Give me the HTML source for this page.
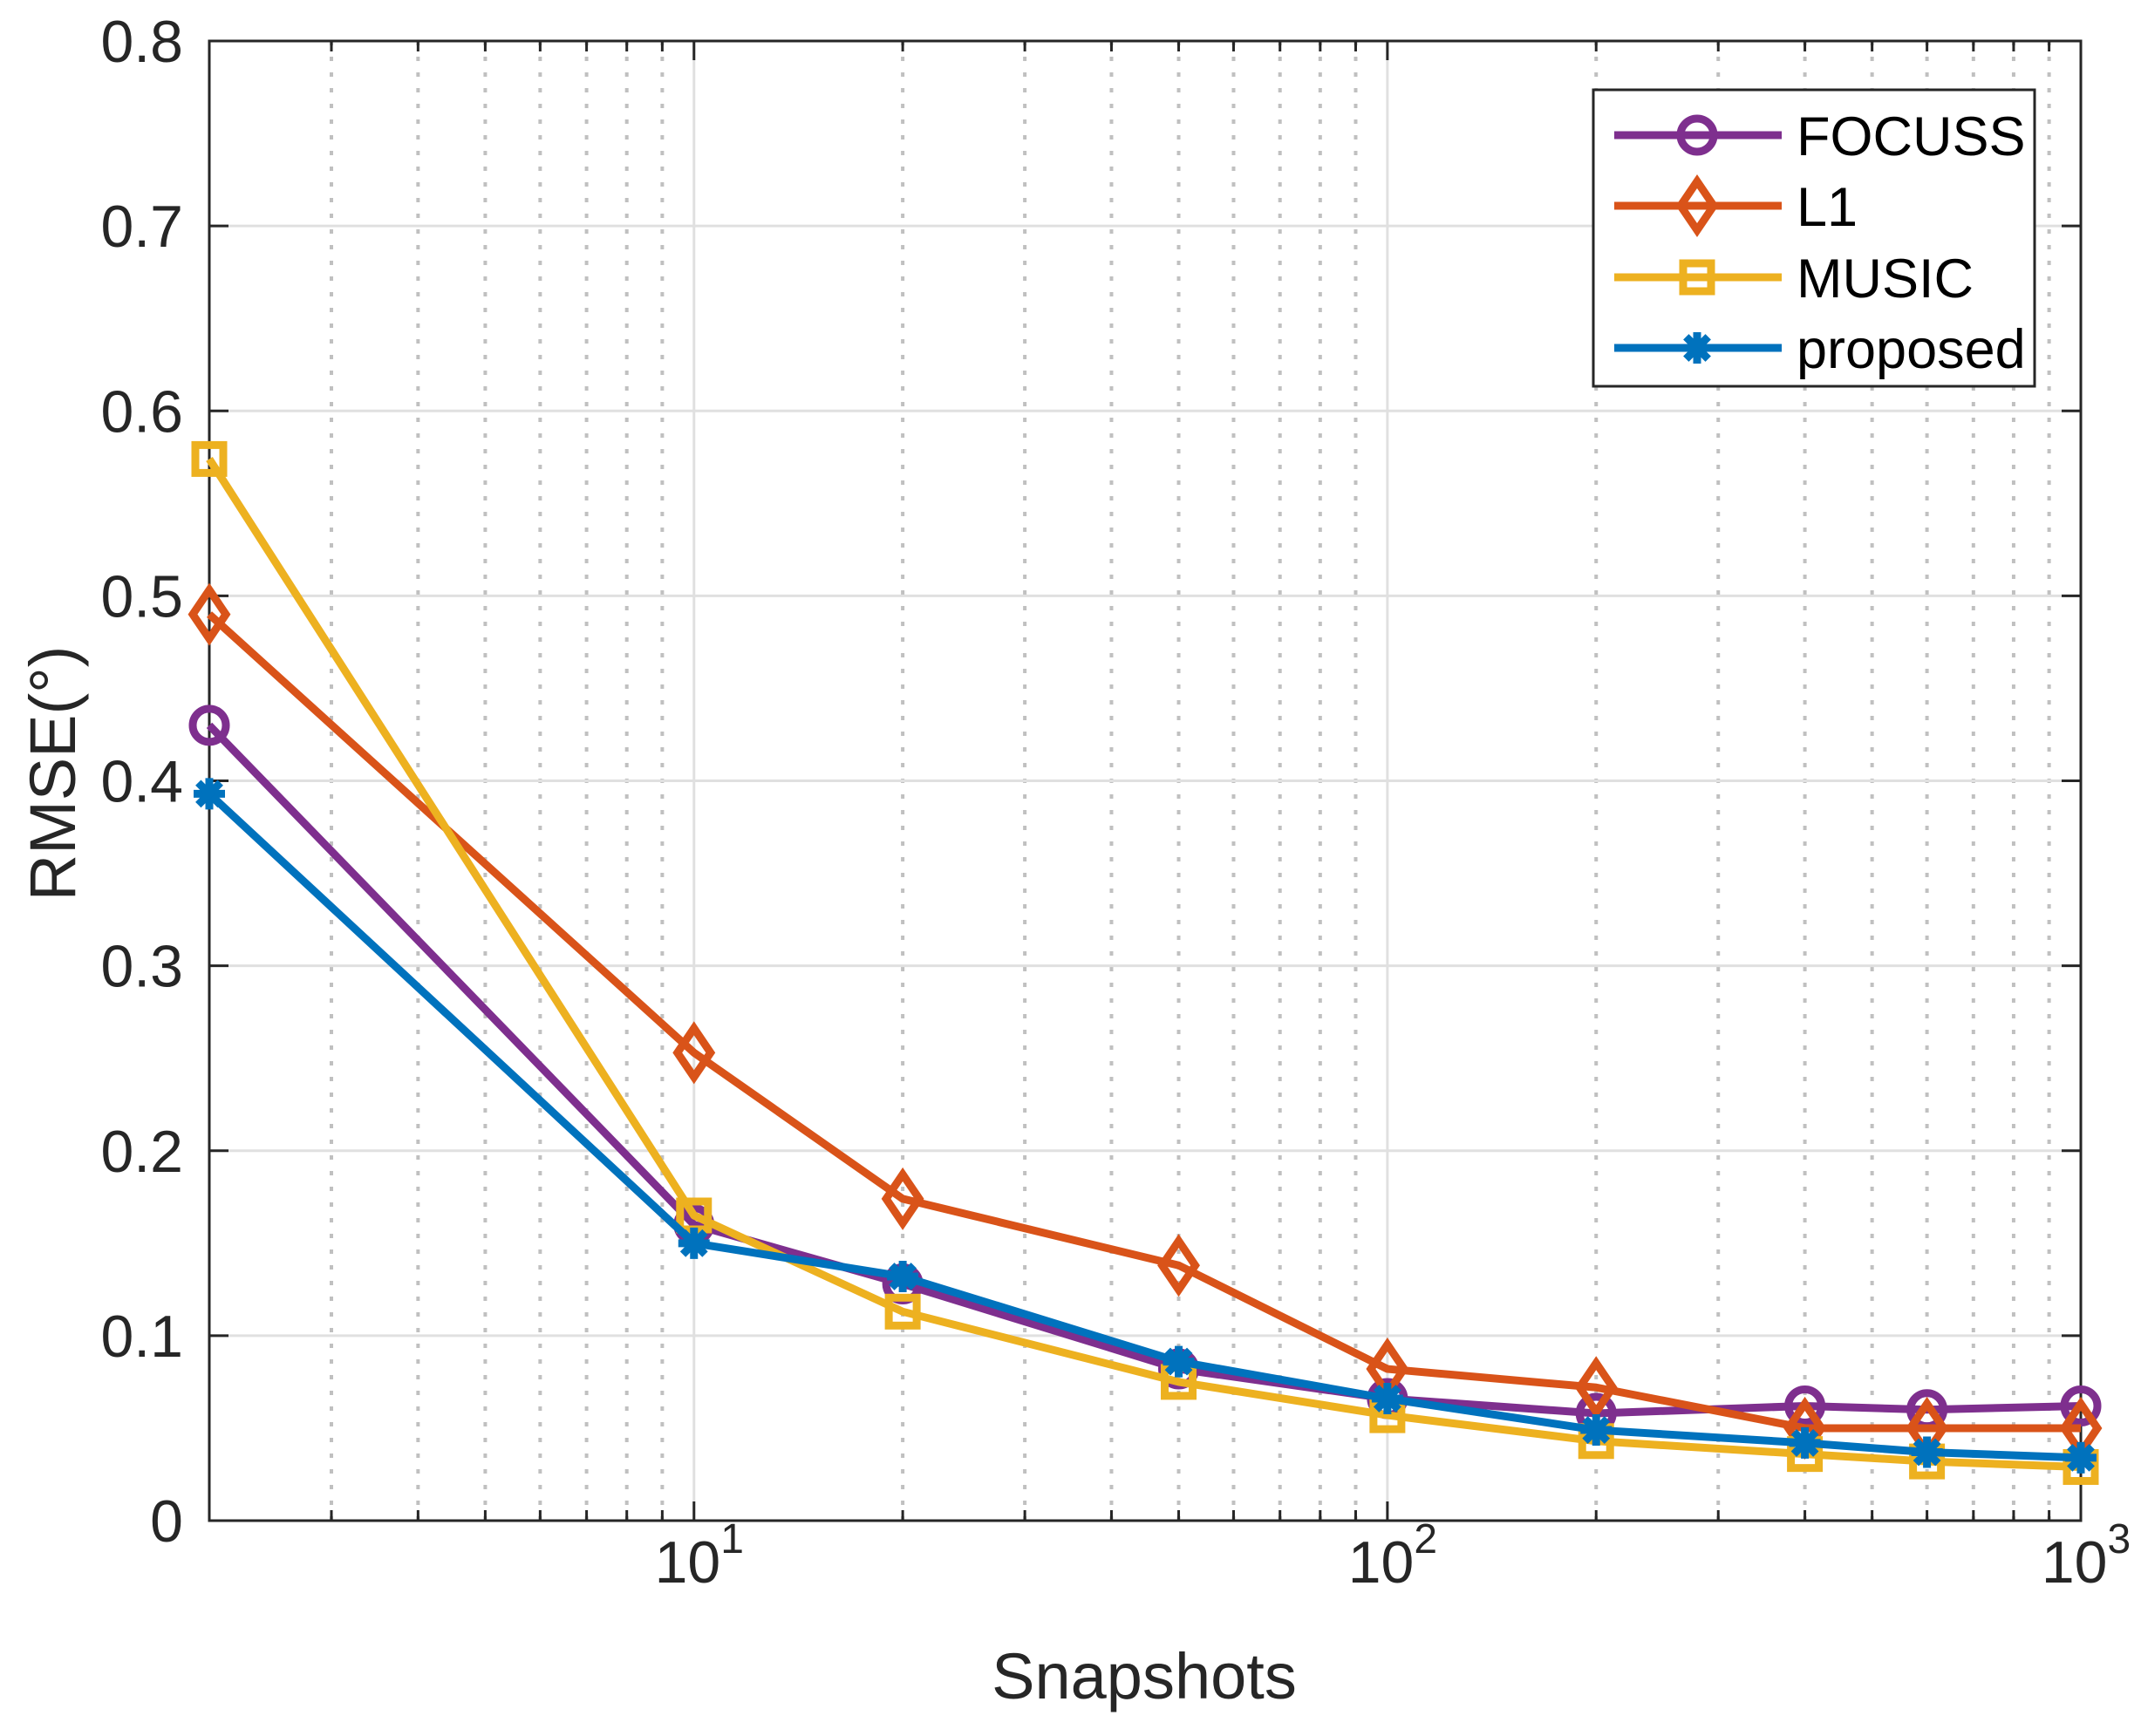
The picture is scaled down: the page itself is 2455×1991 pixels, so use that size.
<!DOCTYPE html>
<html><head><meta charset="utf-8"><style>html,body{margin:0;padding:0;background:#fff}svg{display:block}</style></head>
<body>
<svg id="s" width="2455" height="1991" xmlns="http://www.w3.org/2000/svg" font-family="Liberation Sans, sans-serif"></svg>
<script>
const L=240,R=2386,T=47,B=1744,dec=(R-L)/Math.log10(500);
const X=v=>L+Math.log10(v/2)*dec, Y=v=>B-(v/0.8)*(B-T);
let s='';
for(let d=1;d<=1000;d*=10)for(let k=2;k<=9;k++){const v=d*k;if(v<=2||v>=1000)continue;const x=X(v);
s+=`<line x1="${x}" y1="${T}" x2="${x}" y2="${B}" stroke="#c0c0c0" stroke-width="4" stroke-dasharray="5,13"/>`;}
[10,100].forEach(v=>{const x=X(v);s+=`<line x1="${x}" y1="${T}" x2="${x}" y2="${B}" stroke="#e0e0e0" stroke-width="3"/>`;});
for(let i=1;i<8;i++){const y=Y(i/10);s+=`<line x1="${L}" y1="${y}" x2="${R}" y2="${y}" stroke="#e0e0e0" stroke-width="3"/>`;}
for(let i=0;i<=8;i++){const y=Y(i/10);s+=`<line x1="${L}" y1="${y}" x2="${L+22}" y2="${y}" stroke="#262626" stroke-width="3"/><line x1="${R}" y1="${y}" x2="${R-22}" y2="${y}" stroke="#262626" stroke-width="3"/>`;
s+=`<text x="210" y="${y+24}" font-size="68" text-anchor="end" fill="#262626">${i===0?'0':(i/10).toFixed(1)}</text>`;}
for(let d=1;d<=1000;d*=10)for(let k=1;k<=9;k++){const v=d*k;if(v<=2||v>1000)continue;const x=X(v);const len=(k===1)?22:12;
s+=`<line x1="${x}" y1="${B}" x2="${x}" y2="${B-len}" stroke="#262626" stroke-width="3"/><line x1="${x}" y1="${T}" x2="${x}" y2="${T+len}" stroke="#262626" stroke-width="3"/>`;}
[[10,1],[100,2],[1000,3]].forEach(([v,e])=>{const x=X(v);s+=`<text x="${x+6}" y="1815" font-size="68" text-anchor="middle" fill="#262626">10<tspan dy="-34" font-size="48">${e}</tspan></text>`;});
s+=`<rect x="${L}" y="${T}" width="${R-L}" height="${B-T}" fill="none" stroke="#262626" stroke-width="3"/>`;
s+=`<text x="1312" y="1948" font-size="74" text-anchor="middle" fill="#262626">Snapshots</text>`;
s+=`<text transform="translate(86,887) rotate(-90)" font-size="74" text-anchor="middle" fill="#262626">RMSE(°)</text>`;
const xs=[2,10,20,50,100,200,400,600,1000];
const ser=[
['#7E2F8E','o',[0.43,0.16,0.128,0.082,0.066,0.058,0.062,0.060,0.062],'FOCUSS'],
['#D95319','d',[0.49,0.253,0.174,0.138,0.082,0.072,0.050,0.050,0.050],'L1'],
['#EDB120','s',[0.574,0.165,0.113,0.075,0.057,0.043,0.036,0.032,0.029],'MUSIC'],
['#0072BD','*',[0.393,0.150,0.132,0.086,0.066,0.049,0.042,0.037,0.034],'proposed']];
const W=9;
function mk(t,x,y,c){
 if(t==='o')return `<circle cx="${x}" cy="${y}" r="19" fill="none" stroke="${c}" stroke-width="${W}"/>`;
 if(t==='d')return `<polygon points="${x},${y-28} ${x+19},${y} ${x},${y+28} ${x-19},${y}" fill="none" stroke="${c}" stroke-width="${W}"/>`;
 if(t==='s')return `<rect x="${x-16}" y="${y-16}" width="32" height="32" fill="none" stroke="${c}" stroke-width="${W}"/>`;
 let p='';for(let a=0;a<4;a++){const an=a*Math.PI/4,dx=18*Math.cos(an),dy=18*Math.sin(an);p+=`<line x1="${x-dx}" y1="${y-dy}" x2="${x+dx}" y2="${y+dy}" stroke="${c}" stroke-width="${W}"/>`;}return p;}
ser.forEach(([c,t,ys])=>{const pts=xs.map((v,i)=>[X(v),Y(ys[i])]);
 s+=`<polyline points="${pts.map(p=>p.join(',')).join(' ')}" fill="none" stroke="${c}" stroke-width="${W}" stroke-linejoin="round"/>`;
 pts.forEach(p=>s+=mk(t,p[0],p[1],c));});
s+=`<rect x="1827" y="103" width="506" height="340" fill="#fff" stroke="#262626" stroke-width="3"/>`;
const ly=[155,236,318,399];
ser.forEach(([c,t,,n],i)=>{const y=ly[i];s+=`<line x1="1851" y1="${y}" x2="2043" y2="${y}" stroke="${c}" stroke-width="${W}"/>`+mk(t,1946,y,c)+`<text x="2060" y="${y+23}" font-size="63" fill="#000">${n}</text>`;});
document.getElementById('s').innerHTML=s;
</script>
</body></html>
